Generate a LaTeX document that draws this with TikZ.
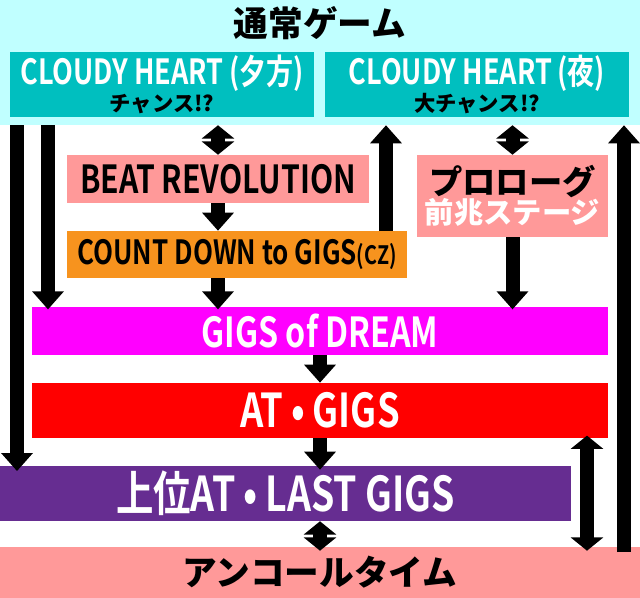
\documentclass[tikz,border=0pt]{standalone}
\usepackage{fontspec}
\setmainfont{Noto Sans CJK JP Bold}
\newfontfamily\jp{Noto Sans CJK JP Black}
\newfontfamily\cond{Noto Sans CJK JP Bold}[FakeStretch=0.78]
\usetikzlibrary{arrows.meta}
\newcommand\fsz[1]{\fontsize{#1}{#1}\selectfont}
\definecolor{bandcyan}{HTML}{C0FFFF}
\definecolor{heartteal}{HTML}{00BFBF}
\definecolor{softpink}{HTML}{FF9999}
\definecolor{czorange}{HTML}{F7931E}
\definecolor{dreammag}{HTML}{FF00FF}
\definecolor{atred}{HTML}{FF0000}
\definecolor{lastpurple}{HTML}{662D91}
\tikzset{
	box/.style 2 args={rectangle,inner sep=0pt,fill=#1,text=#2,align=center},
	arr/.style={line width=10.5pt,-{Triangle[length=13.5pt,width=23pt]}},
	dbl/.style={line width=10.5pt,{Triangle[length=10pt,width=24pt]}-{Triangle[length=10pt,width=24pt]}}
}

\begin{document}
\begin{tikzpicture}[x=0.75pt,y=-0.75pt]
	\useasboundingbox (0,0) rectangle (640,598);

	\node [box={bandcyan}{black},minimum width=480pt,minimum height=93.75pt] (band) at (320,62.5) {};
	\node [text=black,font=\jp\fsz{26}] (title) at (320,23) {通常ゲーム};

	\node [box={heartteal}{white},minimum width=228pt,minimum height=48.75pt,font=\fsz{19}] (ch1) at (162,84.5)
		{{\cond\fsz{26}CLOUDY HEART\,(夕方)}\\[1pt]{\color{black}\jp\fsz{16}チャンス!?}};
	\node [box={heartteal}{white},minimum width=228pt,minimum height=48.75pt,font=\fsz{19}] (ch2) at (477,84.5)
		{{\cond\fsz{26}CLOUDY HEART\,(夜)}\\[1pt]{\color{black}\jp\fsz{16}大チャンス!?}};

	\node [box={softpink}{black},minimum width=226.5pt,minimum height=36pt,font=\cond\fsz{29}] (beat) at (218,179) {BEAT REVOLUTION};
	\node [box={czorange}{black},minimum width=255pt,minimum height=35.25pt,font=\cond\fsz{25}] (count) at (237,254.5) {COUNT DOWN to GIGS{\fsz{19}(CZ)}};
	\node [box={softpink}{black},minimum width=143.25pt,minimum height=61.5pt,font=\jp\fsz{25}] (prolog) at (512.5,196)
		{プロローグ\\[-3pt]{\color{white}\fsz{22}前兆ステージ}};

	\node [box={dreammag}{white},minimum width=432pt,minimum height=36pt,font=\cond\fsz{31}] (dream) at (320,331) {GIGS of DREAM};
	\node [box={atred}{white},minimum width=432pt,minimum height=41.25pt,font=\cond\fsz{35}] (atgigs) at (320,410.5) {AT\,•\,GIGS};
	\node [box={lastpurple}{white},minimum width=428.25pt,minimum height=41.25pt,font=\cond\fsz{36}] (lastgigs) at (285.5,493.5) {上位AT\,•\,LAST GIGS};
	\node [box={softpink}{black},minimum width=480pt,minimum height=38.25pt,font=\jp\fsz{26}] (encore) at (320,572.5) {アンコールタイム};

	% free columns of the long arrows
	\coordinate (lx1) at (17,0);
	\coordinate (lx2) at (48,0);
	\coordinate (ux) at (386,0);
	\coordinate (rdx) at (587,0);
	\coordinate (rx) at (624,0);

	\draw [arr,shorten >=-4pt] (lx1 |- band.south) -- (lx1 |- lastgigs.north);
	\draw [arr,shorten >=-2pt] (lx2 |- band.south) -- (lx2 |- dream.north);
	\draw [dbl] (beat.north |- band.south) -- (beat.north);
	\draw [arr] (beat.south) -- (beat.south |- count.north);
	\draw [arr,shorten >=-2pt] (beat.south |- count.south) -- (beat.south |- dream.north);
	\draw [arr] (ux |- count.north) -- (ux |- band.south);
	\draw [dbl] (prolog.north |- band.south) -- (prolog.north);
	\draw [arr,shorten >=-2pt] (prolog.south) -- (prolog.south |- dream.north);
	\draw [arr,shorten <=-4pt] (rx |- encore.north) -- (rx |- band.south);
	\draw [arr] (dream.south) -- (atgigs.north);
	\draw [arr,shorten >=-3pt] (atgigs.south) -- (atgigs.south |- lastgigs.north);
	\draw [dbl,shorten >=-3pt] (atgigs.south |- lastgigs.south) -- (atgigs.south |- encore.north);
	\draw [dbl,shorten <=-2pt,shorten >=-3pt] (rdx |- atgigs.south) -- (rdx |- encore.north);
\end{tikzpicture}
\end{document}
